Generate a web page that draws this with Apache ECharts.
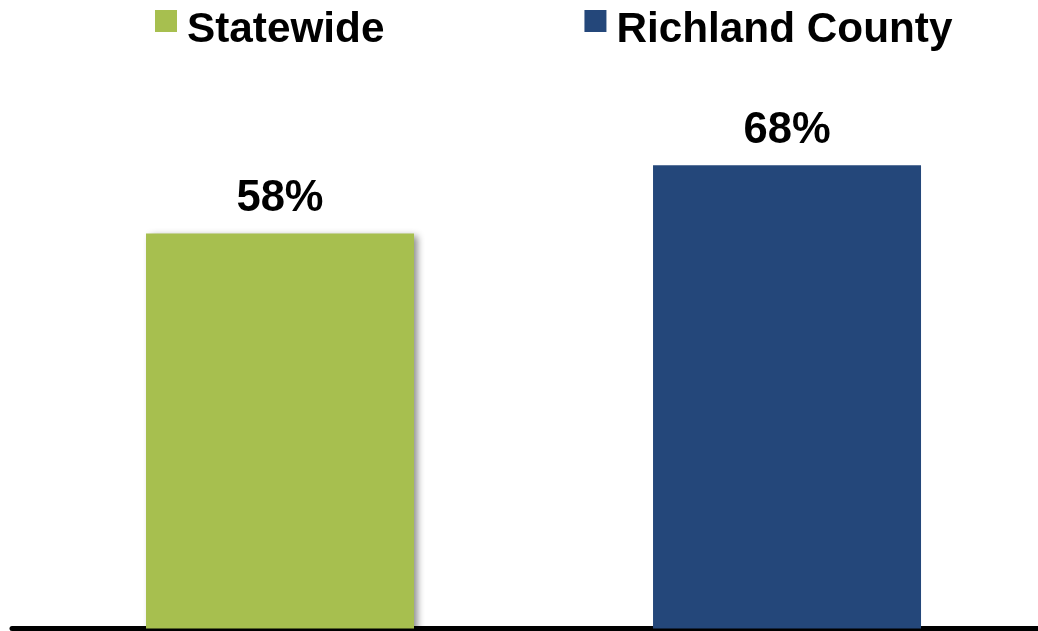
<!DOCTYPE html>
<html>
<head>
<meta charset="utf-8">
<script src="https://cdn.jsdelivr.net/npm/echarts@6/dist/echarts.min.js"></script>
<style>
html,body{margin:0;padding:0;background:#fff;}
#chart{width:1038px;height:631px;}
</style>
</head>
<body>
<div id="chart"></div>
<script>
const seriesNames = ['Statewide', 'Richland County'];
const barPositions = [0, 1];
const statewideValues = [58];
const richlandValues = [68];
const seriesColors = ['#A7BF4F', '#24477A'];

const chart = echarts.init(document.getElementById('chart'));
const labelStyle = {
  show: true,
  position: 'top',
  distance: 12,
  formatter: function (p) { return p.value[1] + '%'; },
  color: '#000',
  fontSize: 43.5,
  fontWeight: 'bold',
  fontFamily: 'Liberation Sans, Arial, sans-serif'
};
const legendFont = {
  color: '#000',
  fontSize: 42.3,
  fontWeight: 'bold',
  fontFamily: 'Liberation Sans, Arial, sans-serif'
};
chart.setOption({
  animation: false,
  backgroundColor: '#fff',
  legend: {
    data: seriesNames,
    left: 155,
    top: 9,
    padding: 0,
    icon: 'rect',
    itemWidth: 22,
    itemHeight: 22,
    itemGap: 200,
    formatter: '{t|{name}}',
    textStyle: Object.assign({}, legendFont, {
      padding: [0, 0, 0, 5],
      rich: { t: Object.assign({}, legendFont, { padding: [18, 0, 0, 0] }) }
    })
  },
  grid: { left: 12, right: 0, top: 83.5, bottom: 2.5, containLabel: false },
  xAxis: {
    type: 'value',
    min: -0.5286,
    max: 1.495,
    axisLine: { show: true, onZero: false, lineStyle: { color: '#000', width: 5 } },
    axisTick: { show: false },
    axisLabel: { show: false },
    splitLine: { show: false }
  },
  yAxis: {
    type: 'value',
    min: 0,
    max: 80,
    show: false,
    splitLine: { show: false }
  },
  series: [
    {
      name: seriesNames[0],
      type: 'bar',
      data: statewideValues.map((v, i) => [barPositions[0], v]),
      barWidth: 268,
      barGap: '-100%',
      itemStyle: {
        color: seriesColors[0],
        shadowColor: 'rgba(0,0,0,0.45)',
        shadowBlur: 7,
        shadowOffsetX: 4,
        shadowOffsetY: 3
      },
      label: labelStyle
    },
    {
      name: seriesNames[1],
      type: 'bar',
      data: richlandValues.map((v, i) => [barPositions[1], v]),
      barWidth: 268,
      barGap: '-100%',
      itemStyle: { color: seriesColors[1] },
      label: labelStyle
    }
  ]
});
</script>
</body>
</html>
